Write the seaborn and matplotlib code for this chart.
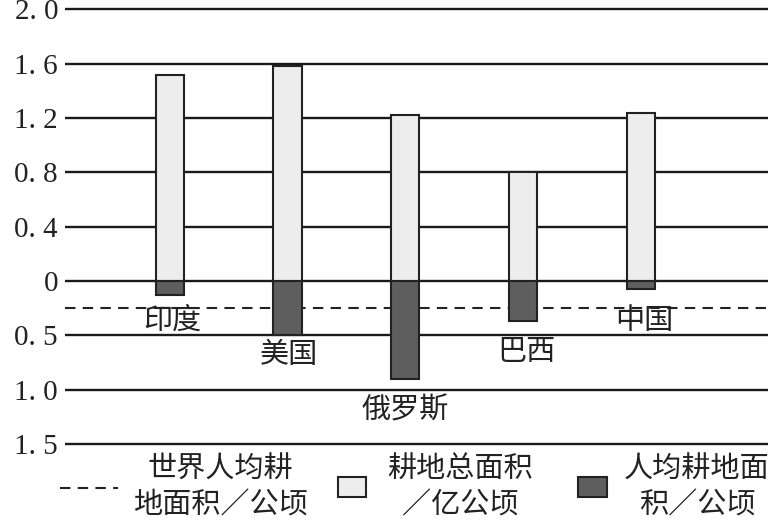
import matplotlib.pyplot as plt
import seaborn as sns
from matplotlib.lines import Line2D
from matplotlib.patches import Rectangle

countries = ['印度', '美国', '俄罗斯', '巴西', '中国']
total_area = [1.52, 1.58, 1.22, 0.80, 1.24]      # 耕地总面积/亿公顷
per_capita = [0.13, 0.50, 0.90, 0.37, 0.07]      # 人均耕地面积/公顷
world_per_capita = 0.25                          # 世界人均耕地面积/公顷
ytick_labels = ['1. 5', '1. 0', '0. 5', '0', '0. 4', '0. 8', '1. 2', '1. 6', '2. 0']
legend_labels = ['世界人均耕\n地面积／公顷', '耕地总面积\n／亿公顷', '人均耕地面\n积／公顷']

# upper half: one grid step = 0.4, lower half: one grid step = 0.5
UP, DOWN = 0.4, 0.5
label_pos = [(0.02, -0.74), (1.01, -1.36), (2.0, -2.39), (3.03, -1.31), (4.03, -0.74)]

sns.set_style('white')
plt.rcParams['font.family'] = ['Noto Sans CJK SC', 'DejaVu Sans']

fig = plt.figure(figsize=(7.82, 5.30), dpi=100)
ax = fig.add_axes([0.0831, 0.152, 0.899, 0.8404])

light, dark, edge = '#ededed', '#5e5e5e', '#222222'
sns.barplot(x=countries, y=[v / UP for v in total_area], width=0.24,
            color=light, edgecolor=edge, linewidth=1.5, saturation=1, ax=ax, zorder=3)
sns.barplot(x=countries, y=[-v / DOWN for v in per_capita], width=0.24,
            color=dark, edgecolor=edge, linewidth=1.5, saturation=1, ax=ax, zorder=3)

ax.axhline(-world_per_capita / DOWN, color='#222222', lw=1.5, ls=(0, (5, 3.5)), zorder=2)

ax.set_ylim(-3.1, 5.1)
ax.set_xlim(-0.89, 5.08)
ax.set_yticks(range(-3, 6))
ax.set_yticklabels(ytick_labels, family=['Liberation Serif'], fontsize=21, color='#222222')
ax.yaxis.grid(True, color='#1a1a1a', lw=1.7, zorder=1)
ax.set_axisbelow(True)
ax.tick_params(axis='y', length=0, pad=5)
ax.set_xticks([])
ax.set_xlabel('')
ax.set_ylabel('')
sns.despine(ax=ax, left=True, bottom=True)

for name, (x, y) in zip(countries, label_pos):
    ax.text(x, y, name, ha='center', va='center', fontsize=21, color='#222222', zorder=4)

# legend drawn below the plot
fig.add_artist(Line2D([60 / 782, 118 / 782], [1 - 488 / 530] * 2, color='#222222',
                      lw=1.5, ls=(0, (5, 3.5)), transform=fig.transFigure))
fig.add_artist(Rectangle((338 / 782, 1 - 497 / 530), 28 / 782, 20 / 530, facecolor=light,
                         edgecolor=edge, lw=1.5, transform=fig.transFigure))
fig.add_artist(Rectangle((578 / 782, 1 - 497 / 530), 29 / 782, 20 / 530, facecolor=dark,
                         edgecolor=edge, lw=1.5, transform=fig.transFigure))
for xc, lab in zip([220, 460, 697], legend_labels):
    fig.text(xc / 782, 1 - 488 / 530, lab, ha='center', va='center', fontsize=21,
             color='#222222', linespacing=1.25, multialignment='center')

fig.savefig('out.png', dpi=100)
